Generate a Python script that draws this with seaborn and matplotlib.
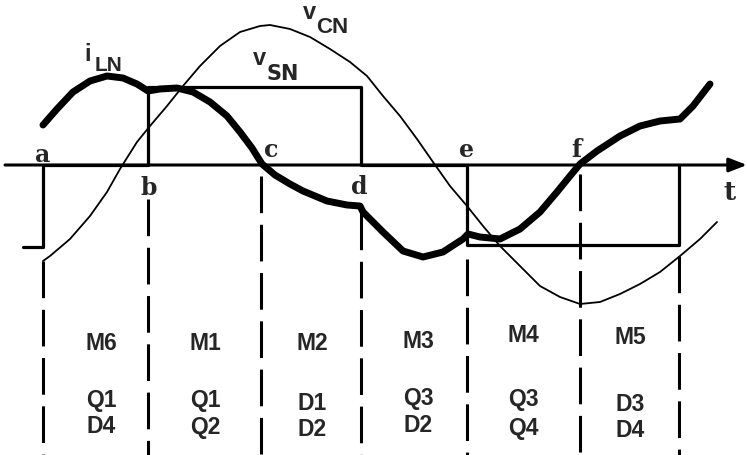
import numpy as np
import pandas as pd
import matplotlib
matplotlib.use("Agg")
import matplotlib.pyplot as plt
import seaborn as sns

# =======================
# Data (t in px, signal = height above the t axis in px)
# =======================
switch_t = [43, 148, 261, 361, 467, 580, 679]
switch_names = ["a", "b", "c", "d", "e", "f"]
dash_top = [-96, -34, -11, -48, -94, -9, -91]   # where each dashed line starts

vsn_t = [23, 43, 43, 148, 148, 361, 361, 467, 467, 679, 679]
vsn_v = [-82, -82, 0, 0, 78, 78, 0, 0, -80, -80, 0]

vcn_t = [43, 50, 70, 90, 107, 120, 137, 150, 167, 183, 200, 220, 240, 260, 270,
         290, 310, 330, 350, 367, 383, 400, 417, 433, 450, 467, 483, 500, 520,
         540, 560, 580, 600, 620, 640, 660, 680, 700, 717]
vcn_v = [-96, -91, -74, -51, -27, -4, 23, 39, 59, 79, 99, 119, 133, 139, 140,
         136, 128, 116, 103, 89, 69, 49, 26, 3, -21, -41, -61, -81, -101,
         -121, -132, -139, -137, -129, -119, -107, -91, -74, -57]

iln_t = [43, 57, 73, 90, 107, 123, 137, 148, 160, 177, 193, 210, 227, 240, 252,
         262, 275, 290, 303, 327, 347, 360, 363, 383, 403, 423, 443, 463, 468,
         480, 500, 520, 540, 557, 570, 580, 597, 620, 640, 660, 680, 693, 710]
iln_v = [40, 56, 73, 84, 89, 87, 81, 74, 76, 77, 73, 63, 49, 33, 17,
         1, -10, -19, -26, -36, -40, -41, -47, -67, -86, -92, -87, -74, -69,
         -72, -74, -64, -47, -27, -11, 1, 14, 29, 39, 44, 46, 59, 81]

modes = ["M6", "M1", "M2", "M3", "M4", "M5"]
mode_x = [101, 205, 312, 418, 523, 630]
mode_y = [-178, -178, -178, -176, -170, -171]
dev_top = ["Q1", "Q1", "D1", "Q3", "Q3", "D3"]
dev_bot = ["D4", "Q2", "D2", "D2", "Q4", "D4"]
dev_top_y = [-235, -235, -238, -233, -234, -239]
dev_bot_y = [-261, -262, -264, -260, -263, -265]

# =======================
# Figure
# =======================
sns.set_theme(style="white")
plt.rcParams['font.family'] = ['Liberation Sans Narrow', 'Liberation Sans', 'DejaVu Sans']

fig = plt.figure(figsize=(7.47, 4.56), dpi=100)
ax = fig.add_axes([0, 0, 1, 1])
ax.set_xlim(0, 747)
ax.set_ylim(-290, 166)
ax.axis("off")

# t axis with arrow
ax.annotate("", xy=(747, 0), xytext=(5, 0),
            arrowprops=dict(arrowstyle="-|>,head_length=0.9,head_width=0.35",
                            color="black", lw=2.2, shrinkA=0, shrinkB=0))

# dashed boundaries
for t0, top in zip(switch_t, dash_top):
    ax.plot([t0, t0], [top, -290], color="black", lw=2.2,
            dashes=(12, 3.8), solid_capstyle="butt")

df_vsn = pd.DataFrame({"t": vsn_t, "v": vsn_v})
sns.lineplot(data=df_vsn, x="t", y="v", sort=False, estimator=None,
             color="black", lw=2.3, ax=ax)
df_vcn = pd.DataFrame({"t": vcn_t, "v": vcn_v})
sns.lineplot(data=df_vcn, x="t", y="v", sort=False, estimator=None,
             color="black", lw=1.3, solid_joinstyle="round", ax=ax)
df_iln = pd.DataFrame({"t": iln_t, "v": iln_v})
sns.lineplot(data=df_iln, x="t", y="v", sort=False, estimator=None,
             color="black", lw=5, solid_capstyle="round",
             solid_joinstyle="round", ax=ax)

# point labels
lbl_pos = {"a": (43, 11), "b": (149, -22), "c": (271, 16), "d": (359, -21),
           "e": (467, 16), "f": (576, 16)}
for name in switch_names:
    x0, y0 = lbl_pos[name]
    ax.text(x0, y0, name, ha="center", va="center", fontsize=17,
            family="DejaVu Serif", fontweight="bold")
ax.text(729, -26, "t", ha="center", va="center", fontsize=19,
        family="DejaVu Serif", fontweight="bold")

# signal names
kw = dict(ha="left", va="baseline", fontweight="bold")
ax.text(84, 105, "i", fontsize=17, **kw)
ax.text(95, 95, "LN", fontsize=15, **kw)
ax.text(303, 147, "v", fontsize=17, **kw)
ax.text(316, 133, "CN", fontsize=16, **kw)
ax.text(253, 101, "v", fontsize=17, **kw)
ax.text(267, 86, "SN", fontsize=15, family="DejaVu Sans", **kw)

# mode / device labels
for x0, y0, m in zip(mode_x, mode_y, modes):
    ax.text(x0, y0, m, ha="center", va="center", fontsize=16.5, fontweight="bold")
for x0, y0, s in zip(mode_x, dev_top_y, dev_top):
    ax.text(x0, y0, s, ha="center", va="center", fontsize=16.5, fontweight="bold")
for x0, y0, s in zip(mode_x, dev_bot_y, dev_bot):
    ax.text(x0, y0, s, ha="center", va="center", fontsize=16.5, fontweight="bold")

plt.savefig("out.png", dpi=100)
